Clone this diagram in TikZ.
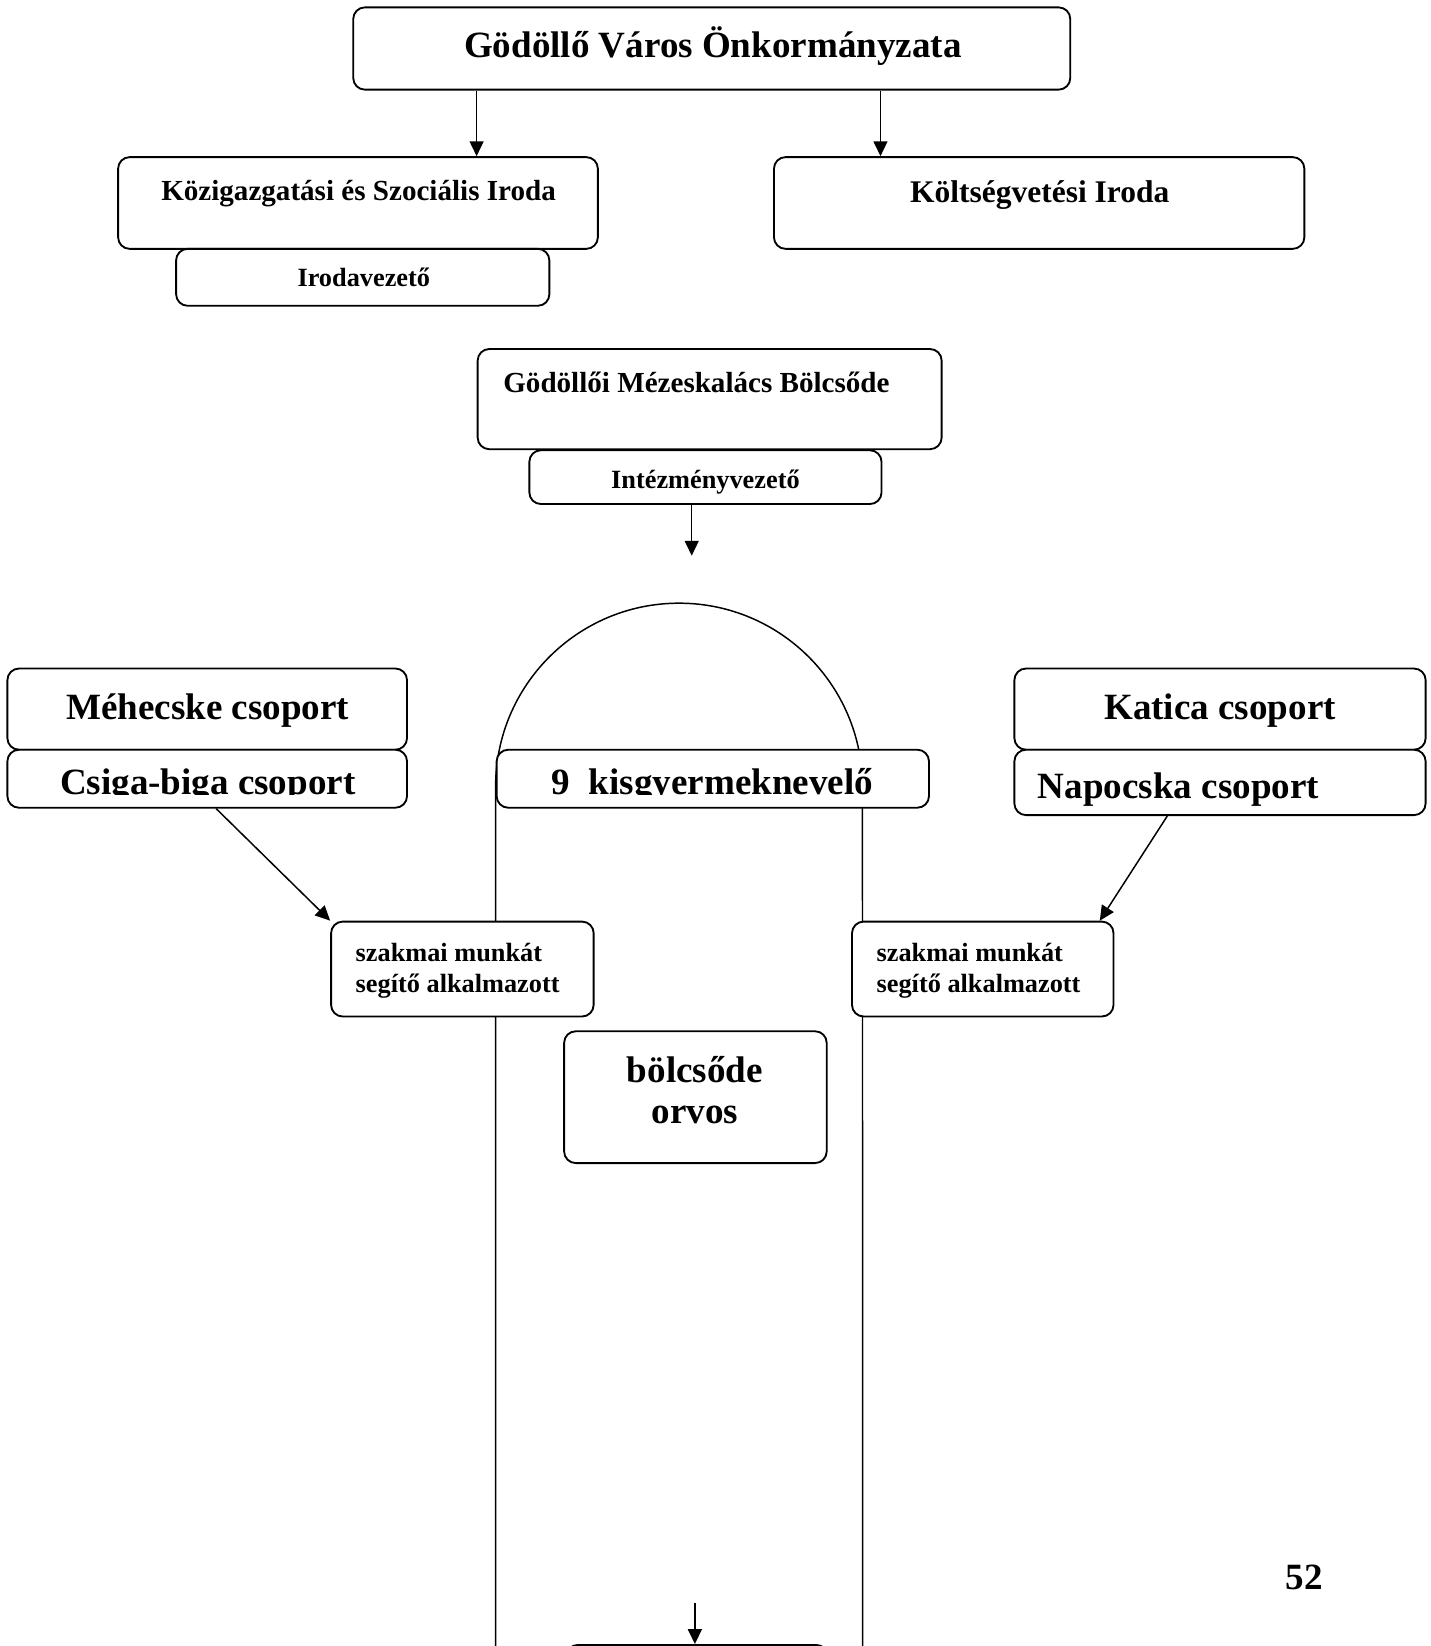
\documentclass[tikz,border=0pt]{standalone}
\usepackage{fontspec}
\setmainfont{Liberation Serif}
\usetikzlibrary{arrows.meta,fit}
\begin{document}
\begin{tikzpicture}[x=0.02cm,y=-0.02cm,
  box/.style={draw, line width=1pt, rounded corners=0.22cm, fill=white, inner sep=0pt},
  conn/.style={line width=0.8pt},
  arr/.style={line width=0.8pt, -{Triangle[length=8pt,width=7.5pt]}},
  txt/.style={inner sep=0pt, anchor=base},
  txtl/.style={inner sep=0pt, anchor=base west},
  fA/.style={font=\fontsize{20pt}{24pt}\selectfont\bfseries},
  fB/.style={font=\fontsize{15.7pt}{19pt}\selectfont\bfseries},
  fC/.style={font=\fontsize{14.2pt}{16.4pt}\selectfont\bfseries},
  fD/.style={font=\fontsize{17pt}{20pt}\selectfont\bfseries}]
\clip (0,0) rectangle (1357,1561);
% tall round-topped frame
\coordinate (archL) at (470,1600);
\coordinate (archR) at (818,1600);
\draw[conn] (archL) -- (470,746) arc[start angle=180,end angle=0,radius=3.48cm] -- (archR);
% boxes
\node[box, fit={(335,7) (1015,85)}] (top) {};
\node[box, fit={(112,149) (567,236)}] (kozig) {};
\node[box, fit={(167,236) (521,290)}] (iroda) {};
\node[box, fit={(734,149) (1237,236)}] (kolt) {};
\node[box, fit={(453,331) (893,426)}] (bolcs) {};
\node[box, fit={(502,427) (836,478)}] (intez) {};
\node[box, fit={(7,634) (386,711)}] (mehe) {};
\node[box, fit={(7,711) (386,766)}] (csiga) {};
\node[box, fit={(471,711) (881,766)}] (kisgy) {};
\node[box, fit={(962,634) (1352,711)}] (katica) {};
\node[box, fit={(962,711) (1352,773)}] (napo) {};
\node[box, fit={(314,874) (563,964)}] (szakL) {};
\node[box, fit={(808,874) (1056,964)}] (szakR) {};
\node[box, fit={(535,978) (784,1103)}] (orvos) {};
\node[box, fit={(537,1560) (785,1640)}] (bottom) {};
% connectors
\draw[arr] (top.south -| 452,0) -- (kozig.north -| 452,0);
\draw[arr] (top.south -| 835,0) -- (kolt.north -| 835,0);
\coordinate (intezEnd) at (656,527);
\draw[arr] (intez.south -| 656,0) -- (intezEnd);
\draw[arr] (csiga.south -| 205,0) -- (szakL.north west);
\draw[arr] (napo.south -| 1107,0) -- (szakR.north -| 1043,0);
\coordinate (botStart) at (659,1520);
\draw[arr] (botStart) -- (bottom.north -| 659,0);
% texts
\node[txt, fA] (tTop) at (676,55) {Gödöllő Város Önkormányzata};
\node[txt, fB] (tKozig) at (340,190) {Közigazgatási és Szociális Iroda};
\node[txt, fC] (tIroda) at (345,272) {Irodavezető};
\node[txt, fD] (tKolt) at (986,192) {Költségvetési Iroda};
\node[txtl, fB] (tBolcs) at (477,372) {Gödöllői Mézeskalács Bölcsőde};
\node[txt, fC] (tIntez) at (669,463) {Intézményvezető};
\node[txt, fA] (tMehe) at (197,682) {Méhecske csoport};
\begin{scope}
\clip (7,711) rectangle (386,753);
\node[txt, fA] (tCsiga) at (197,753) {Csiga-biga csoport};
\end{scope}
\begin{scope}
\clip (471,711) rectangle (881,753);
\node[txtl, fA] (tKisgy) at (523,753) {9\ \ kisgyermeknevelő};
\end{scope}
\node[txt, fA] (tKatica) at (1157,682) {Katica csoport};
\node[txtl, fA] (tNapo) at (984,757) {Napocska csoport};
\node[txtl, fC] (tSzakL1) at (337,912) {szakmai munkát};
\node[txtl, fC] (tSzakL2) at (337,941) {segítő alkalmazott};
\node[txtl, fC] (tSzakR1) at (831,912) {szakmai munkát};
\node[txtl, fC] (tSzakR2) at (831,941) {segítő alkalmazott};
\node[txt, fA] (tOrvos1) at (659,1027) {bölcsőde};
\node[txt, fA] (tOrvos2) at (659,1065) {orvos};
\node[txt, fA] (tPage) at (1237,1507) {52};
\end{tikzpicture}
\end{document}
